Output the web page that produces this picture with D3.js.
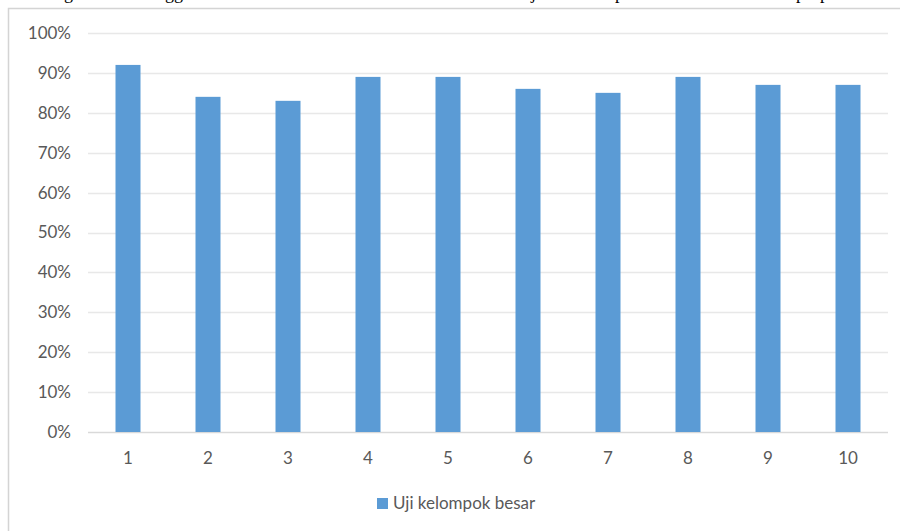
<!DOCTYPE html>
<html>
<head>
<meta charset="utf-8">
<script src="https://cdn.jsdelivr.net/npm/d3@7"></script>
<style>
  html, body { margin: 0; padding: 0; background: #fff; }
  svg { display: block; }
</style>
</head>
<body>
<svg id="chart" width="900" height="531"></svg>
<script>
// Respondent numbers and their score in the large-group trial
const categories = ["1", "2", "3", "4", "5", "6", "7", "8", "9", "10"];
const values = [0.92, 0.84, 0.83, 0.89, 0.89, 0.86, 0.85, 0.89, 0.87, 0.87];
const yTicks = [0, 0.1, 0.2, 0.3, 0.4, 0.5, 0.6, 0.7, 0.8, 0.9, 1.0];
const seriesName = "Uji kelompok besar";

const svg = d3.select("#chart");
const font = "Lato, 'Open Sans', sans-serif";
const textColor = "#595959";
const barColor = "#5B9BD5";

// Line of body text above the chart, mostly cut off by the top edge
const lineText = svg.append("text")
  .attr("y", -1)
  .attr("font-family", "'Liberation Serif', 'Times New Roman', serif")
  .attr("font-size", 18)
  .attr("fill", "#000");
[["dengan", 38], ["hingga", 142], ["uji", 522], ["kelompok", 570], ["proporsi", 796]].forEach(([w, x]) => {
  lineText.append("tspan").attr("x", x).text(w);
});

// Chart frame
svg.append("rect")
  .attr("x", 8.5).attr("y", 8.5)
  .attr("width", 900).attr("height", 540)
  .attr("fill", "#fff")
  .attr("stroke", "#d4d4d4")
  .attr("stroke-width", 1.5);

const x = d3.scaleBand()
  .domain(categories)
  .range([88, 888])
  .paddingInner(0.6875)
  .paddingOuter(0.34375);

const y = d3.scaleLinear()
  .domain([0, 1])
  .range([432, 33]);

// Horizontal gridlines
svg.append("g")
  .selectAll("line")
  .data(yTicks)
  .join("line")
  .attr("x1", 88).attr("x2", 888)
  .attr("y1", d => Math.round(y(d)) + 0.5)
  .attr("y2", d => Math.round(y(d)) + 0.5)
  .attr("stroke", d => d === 0 ? "#d9d9d9" : "#e8e8e8")
  .attr("stroke-width", 1.5);

// Y axis labels
const yAxis = d3.axisLeft(y)
  .tickValues(yTicks)
  .tickFormat(d3.format(".0%"))
  .tickSize(0)
  .tickPadding(0);
svg.append("g")
  .attr("transform", "translate(71,0)")
  .call(yAxis)
  .call(g => g.select(".domain").remove())
  .call(g => g.selectAll("text")
    .attr("font-family", font)
    .attr("font-size", 17)
    .attr("fill", textColor));

// Bars
svg.append("g")
  .selectAll("rect")
  .data(values)
  .join("rect")
  .attr("x", (d, i) => x(categories[i]))
  .attr("y", d => y(d))
  .attr("width", x.bandwidth())
  .attr("height", d => y(0) - y(d))
  .attr("fill", barColor);

// X axis labels
const xAxis = d3.axisBottom(x).tickSize(0).tickPadding(0);
svg.append("g")
  .attr("transform", "translate(0,452)")
  .call(xAxis)
  .call(g => g.select(".domain").remove())
  .call(g => g.selectAll("text")
    .attr("font-family", font)
    .attr("font-size", 17)
    .attr("fill", textColor));

// Legend
const legend = svg.append("g").attr("transform", "translate(377,498)");
legend.append("rect")
  .attr("width", 11).attr("height", 11)
  .attr("fill", barColor);
legend.append("text")
  .attr("x", 16).attr("y", 5.5)
  .attr("dy", "0.35em")
  .attr("font-family", font)
  .attr("font-size", 17)
  .attr("fill", textColor)
  .text(seriesName);
</script>
</body>
</html>
